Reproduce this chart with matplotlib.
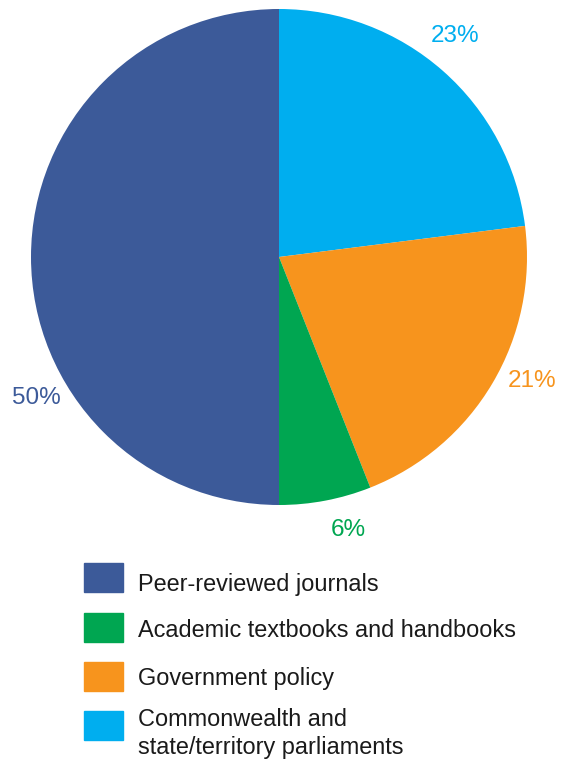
import matplotlib.pyplot as plt
from matplotlib.patches import Rectangle

plt.rcParams['font.family'] = ['Liberation Sans', 'DejaVu Sans']

# share of sources, clockwise from 12 o'clock
sources = ['Commonwealth and\nstate/territory parliaments', 'Government policy',
           'Academic textbooks and handbooks', 'Peer-reviewed journals']
shares = [23, 21, 6, 50]
colors = ['#00AEEF', '#F7941D', '#00A651', '#3C5A99']

# where each percentage sits, in pie radius units
label_xy = [(0.71, 0.89), (1.02, -0.50), (0.28, -1.10), (-0.98, -0.57)]

W, H = 569, 761
fig = plt.figure(figsize=(W / 100, H / 100), dpi=100)

cx, cy, r = 279, 257, 248
ax = fig.add_axes([(cx - r) / W, (H - cy - r) / H, 2 * r / W, 2 * r / H])
ax.pie(shares, colors=colors, startangle=90, counterclock=False, radius=1,
       wedgeprops=dict(linewidth=0))
for v, c, (x, y) in zip(shares, colors, label_xy):
    ax.text(x, y, f'{v}%', color=c, fontsize=17.5, ha='center', va='center')
ax.set_xlim(-1, 1)
ax.set_ylim(-1, 1)
ax.set_aspect('equal')
ax.axis('off')

# legend, top entry = largest slice; baseline is that of the last text line
box_tops = [563, 613, 662, 711]
baselines = [591, 637, 685, 754]
for i, (name, c) in enumerate(zip(sources[::-1], colors[::-1])):
    fig.patches.append(Rectangle((84 / W, (H - box_tops[i] - 29) / H), 39 / W, 29 / H,
                                 transform=fig.transFigure, color=c))
    fig.text(138 / W, (H - baselines[i]) / H, name, fontsize=16.9, color='#1a1a1a',
             ha='left', va='baseline', linespacing=1.25)

fig.savefig('out.png', dpi=100)
